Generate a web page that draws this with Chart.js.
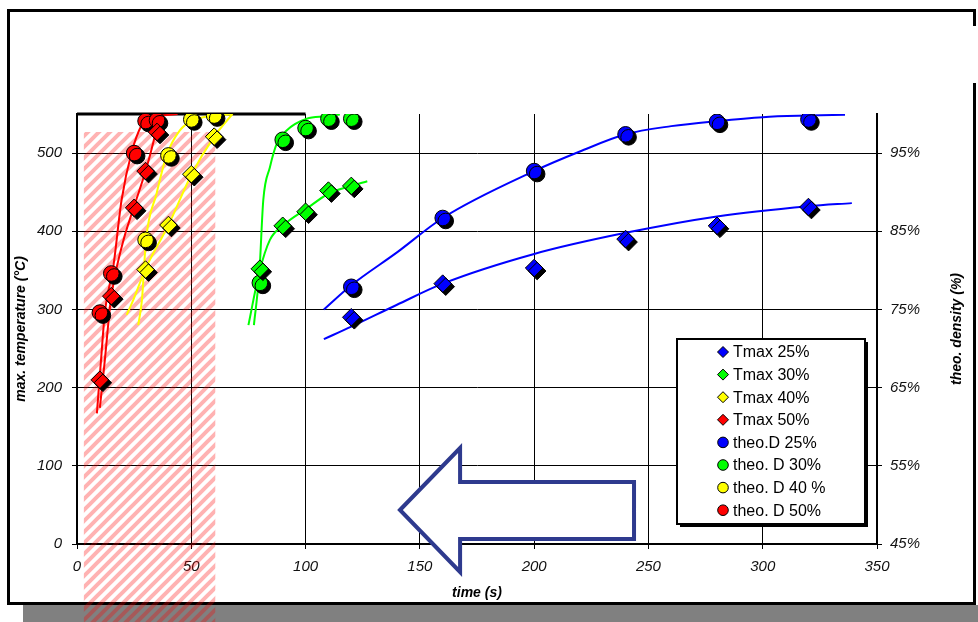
<!DOCTYPE html>
<html>
<head>
<meta charset="utf-8">
<title>Tmax and theo. density vs time</title>
<script src="https://cdn.jsdelivr.net/npm/chart.js@4.4.1/dist/chart.umd.min.js"></script>
<style>
  html, body { margin: 0; padding: 0; background: #fff; }
  #wrap { width: 978px; height: 622px; }
</style>
</head>
<body>
<div id="wrap"><canvas id="chart" width="978" height="622"></canvas></div>
<script>
// Tick labels
const xTicks = [0, 50, 100, 150, 200, 250, 300, 350];
const tempTicks = [0, 100, 200, 300, 400, 500];
const densTicks = [45, 55, 65, 75, 85, 95];

// Measured points (time in s, Tmax in °C, theo. density in %)
const time25 = [120, 160, 200, 240, 280, 320];
const tmax25 = [290, 333, 353, 390, 407, 431];
const theoD25 = [77.9, 86.7, 92.7, 97.4, 99.0, 99.3];

const time30 = [80, 90, 100, 110, 120];
const tmax30 = [352, 407, 425, 452, 458];
const theoD30 = [78.4, 96.7, 98.2, 99.4, 99.4];

const time40 = [30, 40, 50, 60];
const tmax40 = [351, 408, 473, 521];
const theoD40 = [83.9, 94.7, 99.3, 99.8];

const time50 = [10, 15, 25, 30, 35];
const tmax50 = [210, 317, 430, 477, 527];
const theoD50 = [74.6, 79.6, 95.0, 99.1, 99.2];

// Trend lines
const fitT25x = [108, 120, 140, 160, 200, 240, 280, 320, 339];
const fitT25y = [262, 278, 306, 333, 371, 398, 419, 432, 436];
const fitD25x = [108, 120, 140, 160, 200, 220, 240, 260, 280, 300, 320, 336];
const fitD25y = [75.0, 78.1, 82.3, 86.7, 92.7, 95.2, 97.4, 98.45, 99.1, 99.6, 99.8, 99.9];

const fitT30x = [75, 79.8, 84.4, 90, 100.5, 110, 120, 127];
const fitT30y = [280, 348, 389, 407, 429, 448, 458, 464];
const fitD30x = [77.4, 79.8, 81.5, 84.4, 87.4, 91.7, 100.5, 109, 115];
const fitD30y = [73.0, 79.8, 89.0, 93.2, 96.2, 97.9, 99.4, 99.7, 99.95];

const fitT40x = [21.7, 24.6, 30, 40, 50, 60, 68];
const fitT40y = [293, 312, 352, 408, 472, 521, 550];
const fitD40x = [26.8, 28.4, 30.2, 34.8, 39.2, 45, 50.9, 68];
const fitD40y = [73.0, 76.2, 83.9, 89.8, 94.7, 97.9, 99.2, 100];

const fitT50x = [10, 12, 15, 20, 25, 30, 33.4, 35, 35.8];
const fitT50y = [174, 230, 317, 385, 432, 477, 514, 535, 550];
const fitD50x = [8.7, 10.5, 12.3, 15.9, 19.5, 24, 28.3, 31, 37, 44];
const fitD50y = [61.7, 68.5, 74.9, 80.5, 89.0, 95.2, 98.6, 99.5, 99.8, 100];

// Shaded zone and arrow, in axis units (time, °C)
const hatchFrom = 3, hatchTo = 60.5, hatchTop = 527;
const arrowPts = [[141.3, 43.5], [167.6, 122.8], [167.6, 79.3], [243.7, 79.3],
                  [243.7, 6.4], [167.6, 6.4], [167.6, -35.8]];

const FONT = "'Liberation Sans', Arial, sans-serif";
const BLUE = '#0000ff', GREEN = '#00ff00', YELLOW = '#ffff00', RED = '#ff0000';

function pts(xs, ys) {
    return xs.map(function (x, i) { return { x: x, y: ys[i] }; });
}

function markers(label, xs, ys, axis, color, shape) {
    return {
        label: label,
        data: pts(xs, ys),
        yAxisID: axis,
        showLine: false,
        pointStyle: shape,
        pointRadius: shape === 'circle' ? 7.8 : 8.8,
        pointBackgroundColor: color,
        pointBorderColor: '#000',
        pointBorderWidth: 1,
        order: 1
    };
}

function trend(xs, ys, axis, color) {
    return {
        label: '',
        data: pts(xs, ys),
        yAxisID: axis,
        showLine: true,
        borderColor: color,
        borderWidth: 2,
        pointRadius: 0,
        fill: false,
        cubicInterpolationMode: 'monotone',
        order: 2
    };
}

// Frame, shadow, hatch, arrow, legend
const decor = {
    id: 'decor',
    beforeDraw: function (chart) {
        const ctx = chart.ctx;
        ctx.save();
        ctx.fillStyle = '#fff';
        ctx.fillRect(0, 0, chart.width, chart.height);
        ctx.fillStyle = '#808080';
        ctx.fillRect(23, 605, 955, 17);
        ctx.strokeStyle = '#000';
        ctx.lineWidth = 3;
        ctx.strokeRect(8.5, 10.5, 966, 593);
        ctx.fillStyle = '#fff';
        ctx.fillRect(970, 26, 8, 57);
        ctx.restore();
    },
    beforeDatasetsDraw: function (chart) {
        const ctx = chart.ctx;
        const x = chart.scales.x, y = chart.scales.y;

        // hatched zone
        const tile = document.createElement('canvas');
        tile.width = tile.height = 11;
        const g = tile.getContext('2d');
        g.strokeStyle = 'rgba(255,0,0,0.3)';
        g.lineWidth = 4;
        g.beginPath();
        g.moveTo(-3, 14); g.lineTo(14, -3);
        g.moveTo(-3, 3); g.lineTo(3, -3);
        g.moveTo(8, 14); g.lineTo(14, 8);
        g.stroke();
        ctx.save();
        ctx.fillStyle = ctx.createPattern(tile, 'repeat');
        const hx = x.getPixelForValue(hatchFrom);
        const hy = y.getPixelForValue(hatchTop);
        ctx.fillRect(hx, hy, x.getPixelForValue(hatchTo) - hx, chart.height - hy);
        ctx.restore();

        // piece of top border
        ctx.save();
        ctx.strokeStyle = '#000';
        ctx.lineWidth = 3;
        ctx.beginPath();
        ctx.moveTo(x.getPixelForValue(0), y.getPixelForValue(550));
        ctx.lineTo(x.getPixelForValue(100), y.getPixelForValue(550));
        ctx.stroke();
        ctx.restore();

        // arrow
        ctx.save();
        ctx.beginPath();
        arrowPts.forEach(function (p, i) {
            const px = x.getPixelForValue(p[0]), py = y.getPixelForValue(p[1]);
            if (i === 0) ctx.moveTo(px, py); else ctx.lineTo(px, py);
        });
        ctx.closePath();
        ctx.fillStyle = '#fff';
        ctx.fill();
        ctx.strokeStyle = '#2e3a8e';
        ctx.lineWidth = 4;
        ctx.lineJoin = 'miter';
        ctx.stroke();
        ctx.restore();
    },
    beforeDatasetDraw: function (chart, args) {
        if (chart.data.datasets[args.index].showLine === false) {
            const ctx = chart.ctx;
            ctx.save();
            ctx.shadowColor = '#000';
            ctx.shadowOffsetX = 3;
            ctx.shadowOffsetY = 3;
            ctx.shadowBlur = 0;
        }
    },
    afterDatasetDraw: function (chart, args) {
        if (chart.data.datasets[args.index].showLine === false) {
            chart.ctx.restore();
        }
    },
    afterDraw: function (chart) {
        const ctx = chart.ctx;
        const area = chart.chartArea;

        // right axis title
        ctx.save();
        ctx.translate(957, (area.top + area.bottom) / 2);
        ctx.rotate(-Math.PI / 2);
        ctx.font = 'italic bold 14px ' + FONT;
        ctx.fillStyle = '#000';
        ctx.textAlign = 'center';
        ctx.textBaseline = 'middle';
        ctx.fillText('theo. density (%)', 0, 0);
        ctx.restore();

        // legend box
        const items = chart.data.datasets.filter(function (d) { return d.showLine === false; });
        const bx = area.right - 200, by = area.bottom - 205, bw = 188, bh = 185;
        ctx.save();
        ctx.fillStyle = '#000';
        ctx.fillRect(bx + 3, by + 3, bw, bh);
        ctx.fillStyle = '#fff';
        ctx.fillRect(bx, by, bw, bh);
        ctx.strokeStyle = '#000';
        ctx.lineWidth = 2;
        ctx.strokeRect(bx, by, bw, bh);
        ctx.font = '16px ' + FONT;
        ctx.textBaseline = 'middle';
        ctx.textAlign = 'left';
        items.forEach(function (d, i) {
            const cy = by + 13 + i * 22.6;
            const cx = bx + 46;
            ctx.beginPath();
            if (d.pointStyle === 'circle') {
                ctx.arc(cx, cy, 5.3, 0, Math.PI * 2);
            } else {
                ctx.moveTo(cx, cy - 5.5); ctx.lineTo(cx + 5.5, cy);
                ctx.lineTo(cx, cy + 5.5); ctx.lineTo(cx - 5.5, cy);
                ctx.closePath();
            }
            ctx.fillStyle = d.pointBackgroundColor;
            ctx.fill();
            ctx.lineWidth = 1;
            ctx.stroke();
            ctx.fillStyle = '#000';
            ctx.fillText(d.label, cx + 10, cy + 1);
        });
        ctx.restore();
    }
};

const tickFont = { family: FONT, size: 15, style: 'italic' };
const titleFont = { family: FONT, size: 14, style: 'italic', weight: 'bold' };

const ctx = document.getElementById('chart').getContext('2d');
const chart = new Chart(ctx, {
    type: 'scatter',
    data: {
        datasets: [
            markers('Tmax 25%', time25, tmax25, 'y', BLUE, 'rectRot'),
            markers('Tmax 30%', time30, tmax30, 'y', GREEN, 'rectRot'),
            markers('Tmax 40%', time40, tmax40, 'y', YELLOW, 'rectRot'),
            markers('Tmax 50%', time50, tmax50, 'y', RED, 'rectRot'),
            markers('theo.D 25%', time25, theoD25, 'y2', BLUE, 'circle'),
            markers('theo. D 30%', time30, theoD30, 'y2', GREEN, 'circle'),
            markers('theo. D 40 %', time40, theoD40, 'y2', YELLOW, 'circle'),
            markers('theo. D 50%', time50, theoD50, 'y2', RED, 'circle'),
            trend(fitT25x, fitT25y, 'y', BLUE),
            trend(fitD25x, fitD25y, 'y2', BLUE),
            trend(fitT30x, fitT30y, 'y', GREEN),
            trend(fitD30x, fitD30y, 'y2', GREEN),
            trend(fitT40x, fitT40y, 'y', YELLOW),
            trend(fitD40x, fitD40y, 'y2', YELLOW),
            trend(fitT50x, fitT50y, 'y', RED),
            trend(fitD50x, fitD50y, 'y2', RED)
        ]
    },
    options: {
        responsive: false,
        animation: false,
        events: [],
        layout: { padding: { top: 114, left: 0, right: 0, bottom: 0 } },
        plugins: {
            legend: { display: false },
            tooltip: { enabled: false }
        },
        scales: {
            x: {
                type: 'linear',
                position: 'bottom',
                min: 0,
                max: 350,
                afterBuildTicks: function (s) { s.ticks = xTicks.map(function (v) { return { value: v }; }); },
                afterFit: function (s) { s.height = 78; },
                grid: { color: '#000', lineWidth: 1, tickLength: 5 },
                border: { color: '#000', width: 2 },
                ticks: { font: tickFont, color: '#111', padding: 9, maxRotation: 0 },
                title: { display: true, text: 'time (s)', font: titleFont, color: '#000', padding: { top: 0, bottom: 20 } }
            },
            y: {
                type: 'linear',
                position: 'left',
                min: 0,
                max: 550,
                afterBuildTicks: function (s) { s.ticks = tempTicks.map(function (v) { return { value: v }; }); },
                afterFit: function (s) { s.width = 77; },
                grid: { color: '#000', lineWidth: 1, tickLength: 5 },
                border: { color: '#000', width: 2 },
                ticks: { font: tickFont, color: '#111', padding: 10 },
                title: { display: true, text: 'max. temperature (°C)', font: titleFont, color: '#000', padding: { top: 13, bottom: 0 } }
            },
            y2: {
                type: 'linear',
                position: 'right',
                min: 45,
                max: 100,
                afterBuildTicks: function (s) { s.ticks = densTicks.map(function (v) { return { value: v }; }); },
                afterFit: function (s) { s.width = 101; },
                grid: { drawOnChartArea: false, color: '#000', lineWidth: 1, tickLength: 5 },
                border: { color: '#000', width: 2 },
                ticks: { font: tickFont, color: '#111', padding: 8, callback: function (v) { return v + '%'; } }
            }
        }
    },
    plugins: [decor]
});
</script>
</body>
</html>
